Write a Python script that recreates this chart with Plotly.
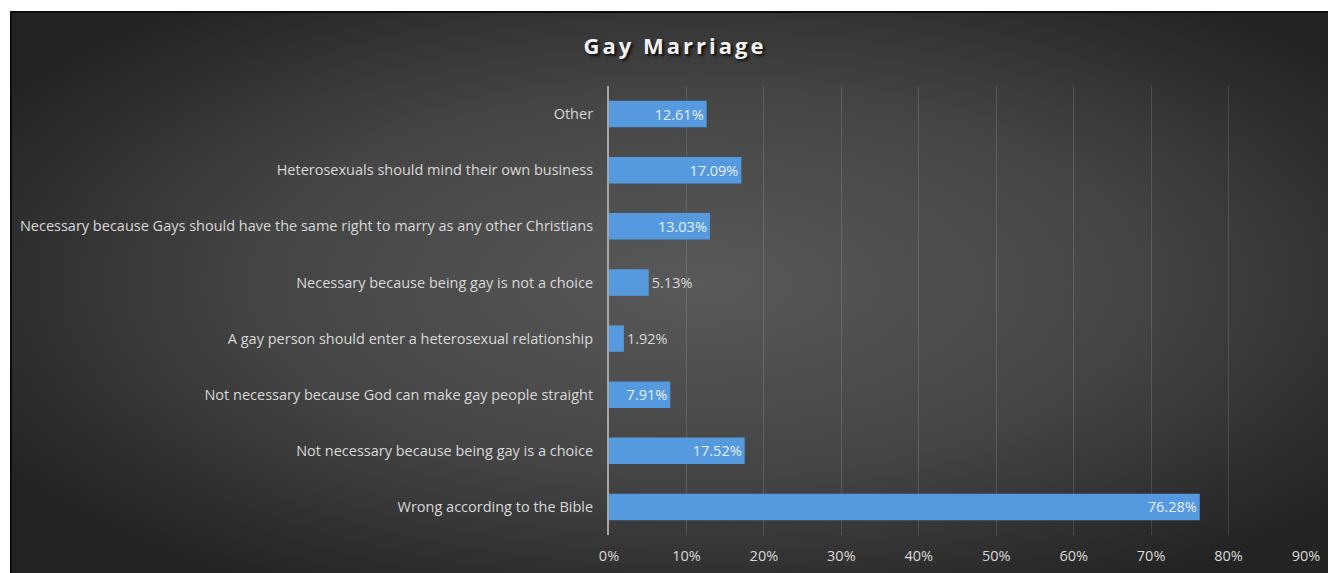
import base64
import plotly.graph_objects as go

categories = [
    "Other",
    "Heterosexuals should mind their own business",
    "Necessary because Gays should have the same right to marry as any other Christians",
    "Necessary because being gay is not a choice",
    "A gay person should enter a heterosexual relationship",
    "Not necessary because God can make gay people straight",
    "Not necessary because being gay is a choice",
    "Wrong according to the Bible",
]
values = [12.61, 17.09, 13.03, 5.13, 1.92, 7.91, 17.52, 76.28]
x_ticks = [0, 10, 20, 30, 40, 50, 60, 70, 80, 90]
x_tick_labels = ["0%", "10%", "20%", "30%", "40%", "50%", "60%", "70%", "80%", "90%"]

fractions = [v / 100 for v in values]
labels = [f"{v:.2f}%" for v in values]
positions = ["outside" if v < 6 else "inside" for v in values]
text_colors = ["#d9d9d9" if v < 6 else "#e6eef8" for v in values]

W, H = 1328, 573
ml, mt = 609, 86
mr = W - 1306
mb = H - 535
pw, ph = W - ml - mr, H - mt - mb

fx0, fy0 = 10, 11
iw, ih = W - fx0 + 30, H - fy0 + 30
svg = f"""<svg xmlns='http://www.w3.org/2000/svg' width='{iw}' height='{ih}' viewBox='0 0 {iw} {ih}' preserveAspectRatio='none'>
<defs><radialGradient id='g' cx='51%' cy='46%' r='60%'>
<stop offset='0' stop-color='#595959'/>
<stop offset='0.55' stop-color='#444444'/>
<stop offset='1' stop-color='#232323'/>
</radialGradient></defs>
<rect x='0' y='0' width='{iw}' height='{ih}' fill='url(#g)'/>
<rect x='1' y='1' width='{iw + 20}' height='{ih + 20}' fill='none' stroke='#0d0d0d' stroke-width='2'/>
</svg>"""
src = "data:image/svg+xml;base64," + base64.b64encode(svg.encode()).decode()

img_x = (fx0 - ml) / pw
img_y = (H - mb - fy0) / ph
img_sx = iw / pw
img_sy = ih / ph

FONT = "Open Sans, sans-serif"

fig = go.Figure(
    go.Bar(
        y=categories,
        x=fractions,
        orientation="h",
        width=0.47,
        marker=dict(color="#559ade", line=dict(width=0)),
        text=labels,
        textposition=positions,
        insidetextanchor="end",
        textfont=dict(family=FONT, size=14.5, color=text_colors),
        outsidetextfont=dict(family=FONT, size=14.5, color="#d9d9d9"),
        cliponaxis=False,
        hoverinfo="skip",
    )
)

fig.update_layout(
    width=W,
    height=H,
    margin=dict(l=ml, r=mr, t=mt, b=mb, autoexpand=False),
    paper_bgcolor="white",
    plot_bgcolor="rgba(0,0,0,0)",
    uniformtext=dict(minsize=14.5, mode="show"),
    showlegend=False,
    title=dict(
        text="<span style='letter-spacing:3px'><b>Gay Marriage</b></span>",
        x=675 / W,
        xref="container",
        xanchor="center",
        y=1 - 46 / H,
        yref="container",
        yanchor="middle",
        font=dict(family=FONT, size=22, color="#f2f2f2",
                  shadow="2px 2px 3px rgba(0,0,0,0.85)"),
    ),
    images=[dict(
        source=src, xref="paper", yref="paper",
        x=img_x, y=img_y, sizex=img_sx, sizey=img_sy,
        xanchor="left", yanchor="top", sizing="stretch", layer="below",
    )],
    font=dict(family=FONT, color="#d9d9d9"),
)

fig.update_xaxes(
    range=[0, 0.9],
    tickvals=[t / 100 for t in x_ticks],
    ticktext=x_tick_labels,
    showgrid=True,
    gridcolor="rgba(255,255,255,0.13)",
    gridwidth=1,
    zeroline=False,
    showline=False,
    ticks="",
    ticklabelstandoff=10,
    automargin=False,
    tickfont=dict(family=FONT, size=14.5, color="#d9d9d9"),
    fixedrange=True,
)
fig.update_yaxes(
    categoryorder="array",
    categoryarray=categories,
    autorange="reversed",
    showgrid=False,
    zeroline=False,
    showline=True,
    linecolor="#a6a6a6",
    linewidth=2,
    ticks="",
    ticklabelstandoff=11,
    automargin=False,
    tickfont=dict(family=FONT, size=14.5, color="#d9d9d9"),
    fixedrange=True,
)

fig.write_html(
    "out.html",
    config={"displayModeBar": False, "staticPlot": True},
    post_script="document.body.style.margin='0';document.body.style.overflow='hidden';",
)
